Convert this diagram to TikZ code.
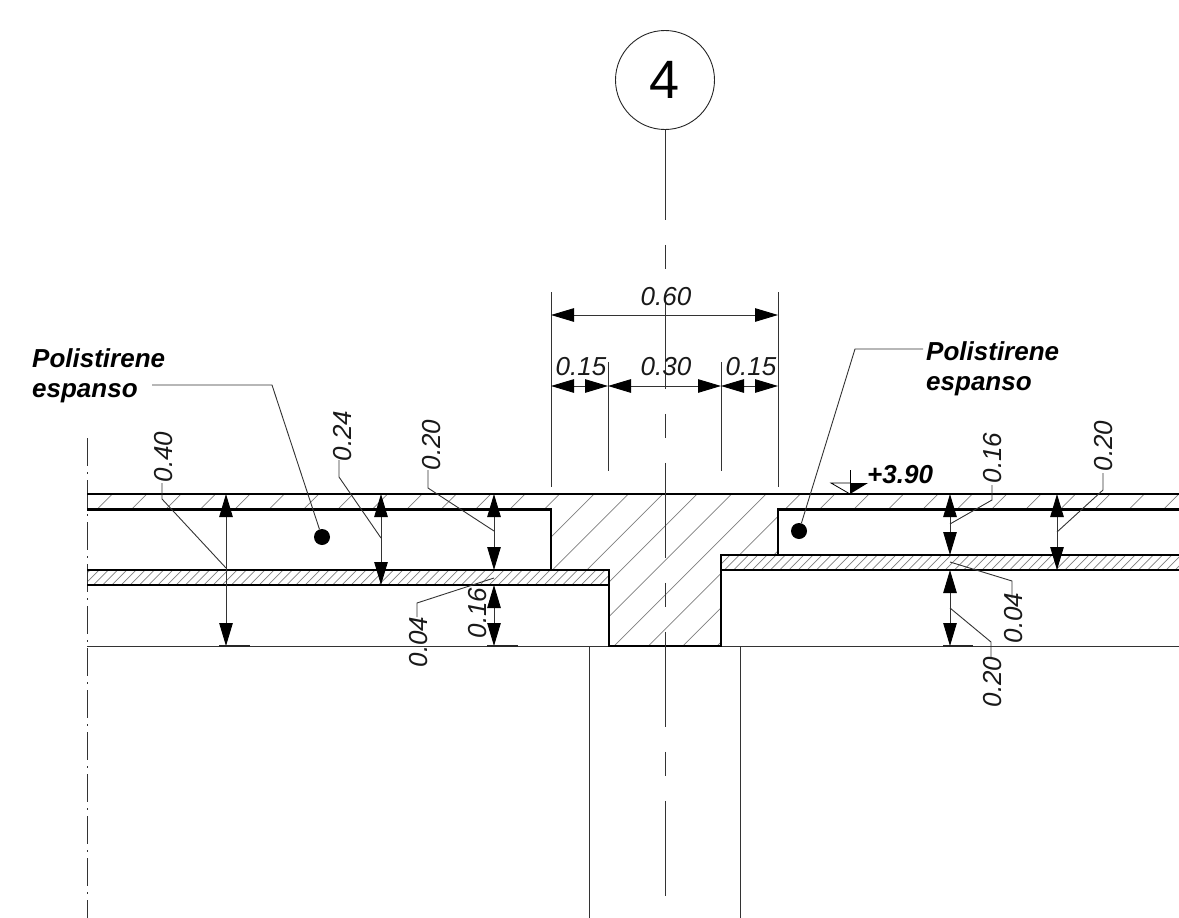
\documentclass[tikz,border=0pt]{standalone}
\usepackage{fontspec}
\setmainfont{Liberation Sans}
\usetikzlibrary{arrows.meta}
\tikzset{
  x=1pt,y=-1pt,
  thinl/.style={line width=0.9pt,color=black!80},
  thickl/.style={line width=2.6pt,color=black,line join=miter},
  hatch/.style={line width=0.7pt,color=black!50},
  dimline/.style={thinl,{Triangle[length=23pt,width=13.5pt,color=black]}-{Triangle[length=23pt,width=13.5pt,color=black]}},
  leader/.style={line width=0.9pt,color=black!80},
  dimtxt/.style={inner sep=0pt,font=\fontsize{26}{26}\selectfont\itshape,color=black!90},
  vdimtxt/.style={dimtxt,rotate=90},
  labeltxt/.style={inner sep=0pt,align=left,anchor=north west,font=\fontsize{26}{30}\selectfont\bfseries\itshape},
  blob/.style={circle,fill=black,inner sep=0pt,minimum size=16pt},
  axisline/.style={line width=0.8pt,color=black!80},
}
\begin{document}
\begin{tikzpicture}
\useasboundingbox (0,0) rectangle (1179,918);
\fill[white] (0,0) rectangle (1179,918);

% coarse hatching
\begin{scope}
\clip (87,494) -- (1179,494) -- (1179,509.5) -- (778,509.5) -- (778,555) -- (721,555) -- (721,646) -- (609,646) -- (609,570) -- (551,570) -- (551,509.5) -- (87,509.5) -- cycle;
\foreach \k in {-15,...,17} {
  \pgfmathsetmacro{\c}{1088+34.4*\k}
  \draw[hatch] ({\c-494},494) -- ({\c-646},646);
}
\end{scope}
% fine hatching
\begin{scope}
\clip (87,570) rectangle (609,585);
\foreach \k in {0,...,60} {
  \pgfmathsetmacro{\c}{660+9.2*\k}
  \draw[hatch] ({\c-570},570) -- ({\c-585},585);
}
\end{scope}
\begin{scope}
\clip (721,555) rectangle (1179,570);
\foreach \k in {0,...,52} {
  \pgfmathsetmacro{\c}{1276+9.2*\k}
  \draw[hatch] ({\c-555},555) -- ({\c-570},570);
}
\end{scope}

% thin outlines
\draw[thinl] (87,646) -- (1179,646);
\draw[thinl] (589,646) -- (589,918);
\draw[thinl] (740,646) -- (740,918);
\draw[axisline,dash pattern=on 28pt off 6pt on 2pt off 6pt] (87,438) -- (87,918);

% section outline
\draw[thickl] (87,494) -- (1179,494);
\draw[thickl] (87,509.5) -- (551,509.5) -- (551,570);
\draw[thickl] (87,570) -- (609,570) -- (609,646) -- (721,646) -- (721,555) -- (1179,555);
\draw[thickl] (87,585) -- (609,585);
\draw[thickl] (721,570) -- (1179,570);
\draw[thickl] (778,555) -- (778,509.5) -- (1179,509.5);

% grid bubble and axis
\node[circle,draw=black!85,text=black,line width=0.9pt,minimum size=99pt,inner sep=0pt,font=\fontsize{54}{54}\selectfont] (bubble) at (665,80) {4};
\coordinate (axisEnd) at (665,918);
\draw[axisline,dash pattern=on 95pt off 25pt on 24pt off 25pt,dash phase=5pt] (bubble.south) -- (axisEnd);

% horizontal dimensions
\coordinate (a1) at (551,315); \coordinate (a2) at (778,315);
\coordinate (b1) at (551,386); \coordinate (b2) at (608,386);
\coordinate (b3) at (721,386); \coordinate (b4) at (778,386);
\coordinate (e1t) at (551,292); \coordinate (e1b) at (551,487);
\coordinate (e2t) at (778,292); \coordinate (e2b) at (778,487);
\coordinate (e3t) at (608,362); \coordinate (e3b) at (608,471);
\coordinate (e4t) at (721,362); \coordinate (e4b) at (721,471);
\draw[thinl] (e1t) -- (e1b);
\draw[thinl] (e2t) -- (e2b);
\draw[thinl] (e3t) -- (e3b);
\draw[thinl] (e4t) -- (e4b);
\draw[dimline] (a1) -- (a2);
\draw[dimline] (b1) -- (b2);
\draw[dimline] (b2) -- (b3);
\draw[dimline] (b3) -- (b4);
\node[dimtxt] (t060) at (666,297) {0.60};
\node[dimtxt] (t015a) at (581,367) {0.15};
\node[dimtxt] (t030) at (666,367) {0.30};
\node[dimtxt] (t015b) at (751,367) {0.15};

% vertical dimensions, left
\coordinate (d1t) at (226,494); \coordinate (d1b) at (226,646);
\coordinate (d2t) at (381,494); \coordinate (d2b) at (381,585);
\coordinate (d3t) at (494,494); \coordinate (d3b) at (494,570);
\coordinate (d4t) at (494,585); \coordinate (d4b) at (494,646);
\draw[dimline] (d1t) -- (d1b);
\draw[dimline] (d2t) -- (d2b);
\draw[dimline] (d3t) -- (d3b);
\draw[dimline] (d4t) -- (d4b);
\coordinate (tk1) at (219,646); \coordinate (tk2) at (250,646);
\coordinate (tk3) at (487,646); \coordinate (tk4) at (518,646);
\coordinate (tk5) at (943,646); \coordinate (tk6) at (973,646);
\draw[line width=1.1pt,color=black!85] (tk1) -- (tk2);
\draw[line width=1.1pt,color=black!85] (tk3) -- (tk4);
\draw[line width=1.1pt,color=black!85] (tk5) -- (tk6);

% vertical dimensions, right
\coordinate (d5t) at (950,494); \coordinate (d5b) at (950,555);
\coordinate (d6t) at (950,570); \coordinate (d6b) at (950,646);
\coordinate (d7t) at (1057,494); \coordinate (d7b) at (1057,570);
\draw[dimline] (d5t) -- (d5b);
\draw[dimline] (d6t) -- (d6b);
\draw[dimline] (d7t) -- (d7b);

% rotated labels and their leaders
\node[vdimtxt] (l040) at (164,457) {0.40};
\node[vdimtxt] (l024) at (343,436) {0.24};
\node[vdimtxt] (l020) at (432,445) {0.20};
\node[vdimtxt] (l004) at (419,642) {0.04};
\node[vdimtxt] (l016) at (478,613) {0.16};
\node[vdimtxt] (r016) at (993,458) {0.16};
\node[vdimtxt] (r020) at (1104,446) {0.20};
\node[vdimtxt] (r004) at (1014,618) {0.04};
\node[vdimtxt] (r020b) at (993,682) {0.20};

\coordinate (p1) at (162,499); \coordinate (q1) at (226,568);
\coordinate (p2) at (339,477); \coordinate (q2) at (381,538);
\coordinate (p3) at (428,488); \coordinate (q3) at (494,531);
\coordinate (p4) at (417,603); \coordinate (q4) at (494,578);
\coordinate (p5) at (992,500); \coordinate (q5) at (950,524);
\coordinate (p6) at (1103,490); \coordinate (q6) at (1057,532);
\coordinate (p7) at (1012,581); \coordinate (q7) at (950,562);
\coordinate (p8) at (991,642); \coordinate (q8) at (950,608);
\draw[leader] (162,483) -- (p1) -- (q1);
\draw[leader] (339,460) -- (p2) -- (q2);
\draw[leader] (428,470) -- (p3) -- (q3);
\draw[leader] (417,617) -- (p4) -- (q4);
\draw[leader] (992,485) -- (p5) -- (q5);
\draw[leader] (1103,473) -- (p6) -- (q6);
\draw[leader] (1012,598) -- (p7) -- (q7);
\draw[leader] (991,657) -- (p8) -- (q8);

% material callouts
\node[labeltxt] (matL) at (32,348) {Polistirene\\espanso};
\node[labeltxt] (matR) at (926,341) {Polistirene\\espanso};
\node[blob] (dotL) at (322,537) {};
\node[blob] (dotR) at (799,531) {};
\coordinate (kL1) at (152,385); \coordinate (kL2) at (272,385);
\coordinate (kR1) at (923,349); \coordinate (kR2) at (855,349);
\draw[leader] (kL1) -- (kL2) -- (dotL);
\draw[leader] (kR1) -- (kR2) -- (dotR);

% level mark
\coordinate (lvA) at (831,483); \coordinate (lvB) at (868,483);
\coordinate (lvT) at (850,494); \coordinate (lvC) at (850,483);
\coordinate (lvU) at (850,470);
\fill (lvC) -- (lvB) -- (lvT) -- cycle;
\draw[line width=0.8pt] (lvC) -- (lvA) -- (lvT);
\draw[line width=0.8pt] (lvU) -- (lvT);
\node[inner sep=0pt,anchor=base west,font=\fontsize{26}{26}\selectfont\bfseries\itshape] (lev) at (867,483) {+3.90};
\end{tikzpicture}
\end{document}
